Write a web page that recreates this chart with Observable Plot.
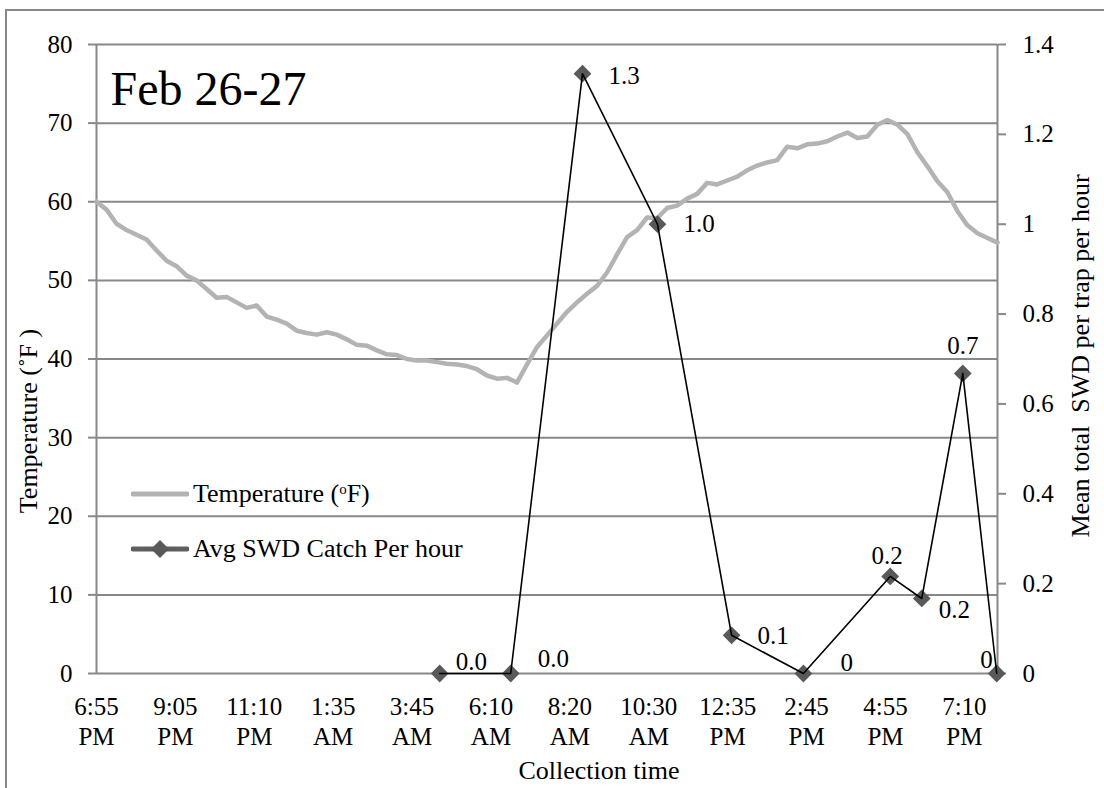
<!DOCTYPE html>
<html>
<head>
<meta charset="utf-8">
<script src="https://cdn.jsdelivr.net/npm/d3@7"></script>
<script src="https://cdn.jsdelivr.net/npm/@observablehq/plot@0.6"></script>
<style>
  html, body { margin: 0; padding: 0; background: #fff; }
  #wrap { position: relative; width: 1104px; height: 788px; overflow: hidden; background: #fff;
          font-family: "Liberation Serif", "Times New Roman", serif; }
  #frame { position: absolute; left: 5px; top: 9px; width: 1200px; height: 900px;
           border-left: 2px solid #888; border-top: 2px solid #888; pointer-events: none; }
  #chart { position: absolute; left: 0; top: 0; }
  #chart svg text { font-family: "Liberation Serif", "Times New Roman", serif; }
  #legend { position: absolute; left: 131px; top: 466px; font-size: 26px; color: #000; }
  #legend .row { display: flex; align-items: center; height: 55px; }
  #legend svg { margin-right: 4px; }
  #legend sup { font-size: 15px; vertical-align: 8px; }
</style>
</head>
<body>
<div id="wrap">
  <div id="frame"></div>
  <div id="chart"></div>
  <div id="legend">
    <div class="row"><svg width="58" height="20"><line x1="2" y1="10" x2="56" y2="10" stroke="#b3b3b3" stroke-width="5" stroke-linecap="round"/></svg><span>Temperature (<sup>o</sup>F)</span></div>
    <div class="row"><svg width="58" height="20"><line x1="2" y1="10" x2="56" y2="10" stroke="#5f5f5f" stroke-width="5" stroke-linecap="round"/><path d="M29,1 L38,10 L29,19 L20,10 Z" fill="#595959"/></svg><span>Avg SWD Catch Per hour</span></div>
  </div>
</div>
<script>
// ---- Data ----
const timeLabels = ["6:55\nPM", "9:05\nPM", "11:10\nPM", "1:35\nAM", "3:45\nAM", "6:10\nAM",
                    "8:20\nAM", "10:30\nAM", "12:35\nPM", "2:45\nPM", "4:55\nPM", "7:10\nPM"];
const xEnd = 11.42; // last reading position, in label-interval units

// Temperature (°F), evenly spaced readings across the whole collection window
const tempF = [
  60.0, 59.0, 57.2, 56.4, 55.8, 55.2, 53.8, 52.5, 51.8, 50.6,
  50.0, 48.9, 47.8, 47.9, 47.2, 46.5, 46.8, 45.4, 45.0, 44.5,
  43.6, 43.3, 43.1, 43.4, 43.1, 42.5, 41.8, 41.7, 41.1, 40.6,
  40.5, 40.0, 39.8, 39.8, 39.6, 39.4, 39.3, 39.1, 38.7, 37.9,
  37.5, 37.6, 37.0, 39.3, 41.5, 43.0, 44.5, 46.0, 47.2, 48.3,
  49.3, 51.0, 53.3, 55.5, 56.4, 58.0, 57.9, 59.2, 59.5, 60.4,
  61.0, 62.4, 62.2, 62.7, 63.2, 64.0, 64.6, 65.0, 65.3, 67.0,
  66.8, 67.3, 67.4, 67.7, 68.3, 68.8, 68.1, 68.3, 69.8, 70.4,
  69.8, 68.6, 66.3, 64.5, 62.6, 61.2, 58.8, 57.0, 56.0, 55.4,
  54.8
];

// SWD catch per hour: sample positions (label-interval units), values, printed labels
const swdPos   = [4.35, 5.25, 6.16, 7.11, 8.05, 8.96, 10.06, 10.46, 10.98, 11.41];
const swdValue = [0, 0, 1.335, 1.0, 0.085, 0, 0.216, 0.167, 0.668, 0];
const swdLabel = ["0.0", "0.0", "1.3", "1.0", "0.1", "0", "0.2", "0.2", "0.7", "0"];

const tempTicks = [0, 10, 20, 30, 40, 50, 60, 70, 80];
const swdTicks  = [0, 0.2, 0.4, 0.6, 0.8, 1.0, 1.2, 1.4];

// ---- Layout (label nudges: [dx, dy, textAnchor]) ----
const labelNudge = [
  [16, -12, "start"], [27, -15, "start"], [26, 2, "start"], [26, 0, "start"], [26, 1, "start"],
  [37, -11, "start"], [-3, -20, "middle"], [17, 12, "start"], [0, -27, "middle"], [-4, -14, "end"]
];

// ---- Build ----
const k = 80 / 1.4; // right-axis value -> left-axis units
const tempStep = xEnd / (tempF.length - 1);
const temp = tempF.map((v, i) => ({x: i * tempStep, t: v}));
const swd = swdPos.map((p, i) => ({x: p, v: swdValue[i], label: swdLabel[i],
                                   dx: labelNudge[i][0], dy: labelNudge[i][1], anchor: labelNudge[i][2]}));
const axisColor = "#888";
const font = "Liberation Serif";

const chart = Plot.plot({
  width: 1104,
  height: 788,
  marginLeft: 96,
  marginRight: 107,
  marginTop: 44,
  marginBottom: 115,
  style: {fontFamily: font, fontSize: "25px", color: "#000", background: "transparent", overflow: "visible"},
  x: {domain: [0, xEnd], axis: null},
  y: {domain: [0, 80], axis: null},
  marks: [
    Plot.gridY(tempTicks.filter(d => d > 0), {stroke: axisColor, strokeOpacity: 1, strokeWidth: 2}),
    Plot.ruleX([0, xEnd], {y1: 0, y2: 80, stroke: axisColor, strokeWidth: 2}),
    Plot.ruleY([0], {stroke: axisColor, strokeWidth: 2}),
    Plot.axisY(tempTicks, {anchor: "left", tickSize: 8, tickPadding: 16, stroke: axisColor, strokeWidth: 2,
                           fill: "#000", fontSize: 25, fontFamily: font, label: null}),
    Plot.axisY(swdTicks.map(v => v * k), {anchor: "right", tickSize: 8, tickPadding: 17, stroke: axisColor, strokeWidth: 2,
                           fill: "#000", fontSize: 25, fontFamily: font, label: null,
                           tickFormat: d => String(+(d / k).toFixed(1))}),
    Plot.text(timeLabels, {x: (d, i) => i, y: 0, text: d => d, dy: 47, lineAnchor: "middle", textAnchor: "middle",
                           lineHeight: 1.2, fontSize: 25, fontFamily: font, fill: "#000"}),
    // temperature
    Plot.line(temp, {x: "x", y: "t", stroke: "#b3b3b3", strokeWidth: 4.5, strokeLinejoin: "round", curve: "linear"}),
    // SWD
    Plot.dot(swd, {x: "x", y: d => d.v * k, symbol: "diamond2", r: 8, fill: "#595959", stroke: "none"}),
    Plot.line(swd, {x: "x", y: d => d.v * k, stroke: "#000", strokeWidth: 1.6}),
    ...swd.map(d => Plot.text([d], {x: "x", y: e => e.v * k, text: "label", textAnchor: d.anchor,
                                    dx: d.dx, dy: d.dy, fontSize: 25, fontFamily: font, fill: "#000"})),
    // titles
    Plot.text(["Feb 26-27"], {frameAnchor: "top-left", dx: 14, dy: 26, lineAnchor: "top", textAnchor: "start",
                              fontSize: 48, fontFamily: font, fill: "#000"}),
    Plot.text(["Temperature (\u02DAF )"], {frameAnchor: "left", dx: -68, dy: 62, rotate: -90,
                              textAnchor: "middle", lineAnchor: "middle", fontSize: 26, fontFamily: font, fill: "#000"}),
    Plot.text(["Mean total\u00A0 SWD per trap per hour"], {frameAnchor: "right", dx: 83, dy: -3, rotate: -90,
                              textAnchor: "middle", lineAnchor: "middle", fontSize: 26, fontFamily: font, fill: "#000"}),
    Plot.text(["Collection time"], {frameAnchor: "bottom", dx: 52, dy: 97, textAnchor: "middle", lineAnchor: "middle",
                              fontSize: 26, fontFamily: font, fill: "#000"})
  ]
});
document.getElementById("chart").appendChild(chart);
</script>
</body>
</html>
